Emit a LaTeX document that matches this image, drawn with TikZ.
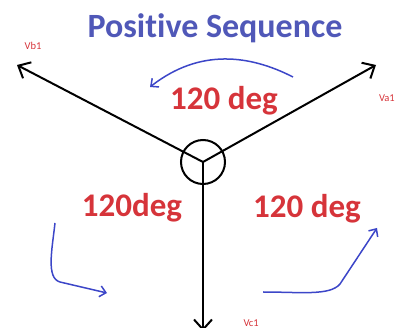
\documentclass[tikz,border=0pt]{standalone}
\usepackage{fontspec}
\setmainfont{Carlito}[Ligatures=NoCommon]
\usetikzlibrary{arrows.meta}
\definecolor{seqblue}{RGB}{80,88,184}
\definecolor{arrblue}{RGB}{60,70,200}
\definecolor{degred}{RGB}{214,52,58}
\begin{document}
\begin{tikzpicture}[x=1pt,y=-1pt,
  phasor/.style={line width=2pt,-{Straight Barb[length=10pt,width=18pt,line width=2pt]}},
  rotarrow/.style={arrblue,line width=1.5pt,-{Straight Barb[length=6pt,width=11pt,line width=1.5pt]}},
  deglabel/.style={degred,font=\fontsize{33}{35}\selectfont\bfseries},
  vlabel/.style={degred,font=\fontsize{10.5}{12}\selectfont}]
\useasboundingbox (0,0) rectangle (396,328);
\coordinate (O) at (203,162);
\coordinate (A) at (376,65);
\coordinate (B) at (17,65);
\coordinate (C) at (203,331);
\node[circle,draw,line width=2pt,minimum size=44pt,inner sep=0pt] (ring) at (O) {};
\draw[phasor] (O) -- (A);
\draw[phasor] (O) -- (B);
\draw[phasor] (O) -- (C);
\node[vlabel] (vb) at (33,46) {Vb1};
\node[vlabel,anchor=east,inner xsep=1pt] (va) at (396,98) {Va1};
\node[vlabel,anchor=west] (vc) at (240,323) {Vc1};
\node[seqblue,font=\fontsize{34}{36}\selectfont\bfseries] (title) at (215,28) {Positive Sequence};
\node[deglabel] (d1) at (224,101) {120 deg};
\node[deglabel] (d2) at (132,208) {120deg};
\node[deglabel] (d3) at (307,209) {120 deg};
\coordinate (t1) at (293,77);
\coordinate (t2) at (150,87);
\draw[rotarrow] (t1) .. controls (250,55) and (200,48) .. (t2);
\coordinate (l1) at (55,223);
\coordinate (l2) at (107,293);
\draw[rotarrow] (l1) .. controls (52,250) and (46,278) .. (60,282) -- (l2);
\coordinate (r1) at (263,292);
\coordinate (r2) at (377,228);
\draw[rotarrow] (r1) .. controls (300,292) and (330,296) .. (340,284) -- (r2);
\end{tikzpicture}
\end{document}
